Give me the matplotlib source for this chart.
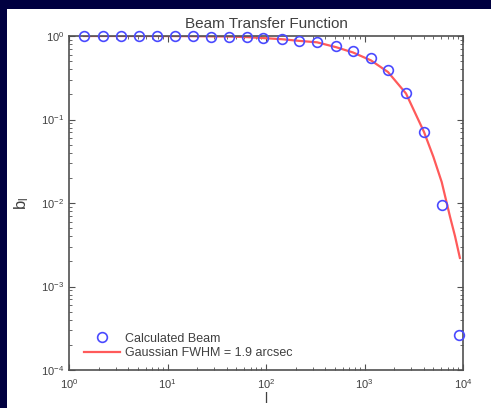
import numpy as np
import matplotlib
matplotlib.use("Agg")
import matplotlib.pyplot as plt
from matplotlib.patches import Rectangle
from matplotlib.ticker import LogLocator, NullFormatter

# multipole values and measured beam window function
ell = [1.42, 2.21, 3.37, 5.14, 7.82, 11.9, 18.2, 27.7, 42.1, 64.1, 93.2,
       145, 216, 330, 514, 764, 1164, 1733, 2638, 4018, 6120, 9100]
b_calc = [1.0, 1.0, 1.0, 1.0, 1.0, 0.995, 0.99, 0.985, 0.98, 0.97, 0.94,
          0.92, 0.88, 0.855, 0.76, 0.67, 0.55, 0.39, 0.21, 0.071, 0.0095, 0.00026]

# gaussian beam model curve
ell_fit = [1.42, 2.21, 3.37, 5.14, 7.82, 11.9, 18.2, 27.7, 42.1, 64.1, 93.2,
           145, 216, 330, 514, 764, 1164, 1733, 2638, 4018, 5000, 6080,
           7380, 8300, 9300]
b_gauss = [1.0, 1.0, 1.0, 1.0, 1.0, 0.998, 0.995, 0.99, 0.985, 0.97, 0.945,
           0.915, 0.875, 0.84, 0.735, 0.635, 0.51, 0.37, 0.205, 0.071, 0.0358,
           0.0178, 0.00686, 0.0040, 0.0022]

title = "Beam Transfer Function"
calc_label = "Calculated Beam"
gauss_label = "Gaussian FWHM = 1.9 arcsec"

plt.rcParams['font.family'] = ['Liberation Sans', 'DejaVu Sans']
plt.rcParams['mathtext.fontset'] = 'custom'
plt.rcParams['mathtext.rm'] = 'Liberation Sans'

fig = plt.figure(figsize=(4.91, 4.08), dpi=100, facecolor='#000040')
fig.patches.append(Rectangle((7 / 491, 0), 1, (408 - 9) / 408,
                             transform=fig.transFigure, facecolor='white',
                             edgecolor='none', zorder=-10))

ax = fig.add_axes([69 / 491, 1 - 370 / 408, (463 - 69) / 491, (370 - 36) / 408])
ax.set_facecolor('white')

ax.loglog(ell, b_calc, 'o', mfc='none', mec='#4a4aff', mew=1.2, ms=7,
          label=calc_label, clip_on=False, zorder=3)
ax.loglog(ell_fit, b_gauss, '-', color='#ff5a5a', lw=1.6, label=gauss_label)

ax.set_xlim(1, 1e4)
ax.set_ylim(1e-4, 1)
ax.xaxis.set_major_locator(LogLocator(base=10, numticks=10))
ax.yaxis.set_major_locator(LogLocator(base=10, numticks=10))
ax.xaxis.set_minor_locator(LogLocator(base=10, subs=np.arange(2, 10), numticks=20))
ax.yaxis.set_minor_locator(LogLocator(base=10, subs=np.arange(2, 10), numticks=20))
ax.xaxis.set_minor_formatter(NullFormatter())
ax.yaxis.set_minor_formatter(NullFormatter())

for s in ax.spines.values():
    s.set_color('#505050')
    s.set_linewidth(1.2)
ax.tick_params(which='both', direction='in', top=True, right=True,
               colors='#505050', labelcolor='#404040', labelsize=8)
ax.tick_params(which='major', length=4, width=0.8)
ax.tick_params(which='minor', length=2, width=0.6)
ax.tick_params(axis='x', pad=5)

ax.set_title(title, fontsize=11, color='#404040', pad=6)
ax.set_xlabel('l', fontsize=10, color='#404040', labelpad=1)
ax.set_ylabel(r'$\mathregular{b_l}$', fontsize=12, color='#404040', labelpad=7)

leg = ax.legend(loc='lower left', bbox_to_anchor=(0.0, -0.012), frameon=False,
                fontsize=9, handlelength=2.9, handletextpad=0.4,
                borderaxespad=0.8, labelspacing=0.2)
for t in leg.get_texts():
    t.set_color('#404040')

fig.savefig('out.png', dpi=100, facecolor=fig.get_facecolor())
